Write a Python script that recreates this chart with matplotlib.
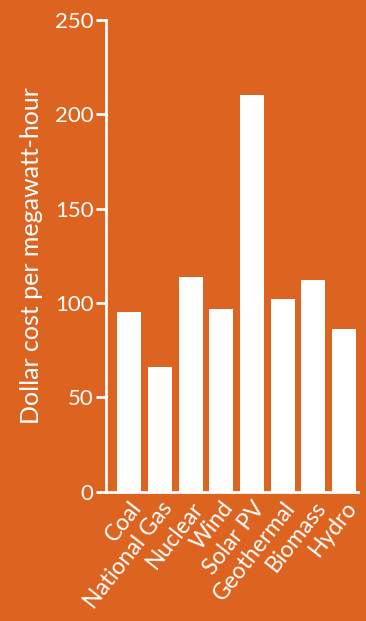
import matplotlib.pyplot as plt

sources = ["Coal", "National Gas", "Nuclear", "Wind", "Solar PV",
           "Geothermal", "Biomass", "Hydro"]
costs = [95, 66, 114, 97, 210, 102, 112, 86]
y_ticks = [0, 50, 100, 150, 200, 250]

bg = "#DD6420"
plt.rcParams["font.family"] = ["Lato", "DejaVu Sans"]

fig = plt.figure(figsize=(3.66, 6.21), dpi=100, facecolor=bg)
ax = fig.add_axes([0.290, 0.208, 0.688, 0.760], facecolor=bg)

x = range(len(sources))
ax.bar(x, costs, width=0.78, color="white")

ax.set_xlim(-0.75, 7.45)
ax.set_ylim(0, 250)
ax.set_yticks(y_ticks)
ax.set_xticks(list(x))
ax.set_xticklabels(sources, rotation=52, ha="right", rotation_mode="anchor",
                   fontsize=16.5, color="white")
ax.tick_params(axis="x", length=0, pad=4)
ax.tick_params(axis="y", length=7, width=2, color="white", labelcolor="white",
               labelsize=16, pad=2)

for side in ["top", "right"]:
    ax.spines[side].set_visible(False)
for side in ["left", "bottom"]:
    ax.spines[side].set_color("white")
    ax.spines[side].set_linewidth(2)

ax.set_ylabel("Dollar cost per megawatt-hour", fontsize=18, color="white",
              labelpad=9)

fig.savefig("out.png", dpi=100, facecolor=bg)
